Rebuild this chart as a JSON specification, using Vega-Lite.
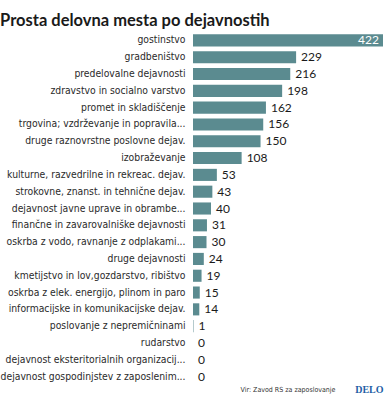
{
  "$schema": "https://vega.github.io/schema/vega-lite/v6.json",
  "width": 190,
  "height": 353,
  "autosize": {"type": "none"},
  "padding": {"left": 193, "top": 32, "right": 3, "bottom": 15},
  "background": "white",
  "title": {
    "text": "Prosta delovna mesta po dejavnostih",
    "anchor": "start",
    "frame": "bounds",
    "font": "Lato",
    "fontSize": 16.5,
    "fontWeight": "bold",
    "color": "#1a1a1a",
    "offset": 3
  },
  "data": {
    "values": [
      {"dejavnost": "gostinstvo", "value": 422},
      {"dejavnost": "gradbeništvo", "value": 229},
      {"dejavnost": "predelovalne dejavnosti", "value": 216},
      {"dejavnost": "zdravstvo in socialno varstvo", "value": 198},
      {"dejavnost": "promet in skladiščenje", "value": 162},
      {"dejavnost": "trgovina; vzdrževanje in popravila...", "value": 156},
      {"dejavnost": "druge raznovrstne poslovne dejav.", "value": 150},
      {"dejavnost": "izobraževanje", "value": 108},
      {"dejavnost": "kulturne, razvedrilne in rekreac. dejav.", "value": 53},
      {"dejavnost": "strokovne, znanst. in tehnične dejav.", "value": 43},
      {"dejavnost": "dejavnost javne uprave in obrambe...", "value": 40},
      {"dejavnost": "finančne in zavarovalniške dejavnosti", "value": 31},
      {"dejavnost": "oskrba z vodo, ravnanje z odplakami...", "value": 30},
      {"dejavnost": "druge dejavnosti", "value": 24},
      {"dejavnost": "kmetijstvo in lov,gozdarstvo, ribištvo", "value": 19},
      {"dejavnost": "oskrba z elek. energijo, plinom in paro", "value": 15},
      {"dejavnost": "informacijske in komunikacijske dejav.", "value": 14},
      {"dejavnost": "poslovanje z nepremičninami", "value": 1},
      {"dejavnost": "rudarstvo", "value": 0},
      {"dejavnost": "dejavnost eksteritorialnih organizacij...", "value": 0},
      {"dejavnost": "dejavnost gospodinjstev z zaposlenim...", "value": 0}
    ]
  },
  "encoding": {
    "y": {
      "field": "dejavnost",
      "type": "nominal",
      "sort": null,
      "scale": {"paddingInner": 0.28, "paddingOuter": 0.14},
      "axis": {
        "title": "DELO",
        "titleAngle": 0,
        "titleX": 190,
        "titleY": 357,
        "titleAlign": "right",
        "titleBaseline": "middle",
        "titleFont": "Liberation Serif",
        "titleFontSize": 10,
        "titleFontWeight": "bold",
        "titleColor": "#1f5fa6",
        "domain": false,
        "ticks": false,
        "labelPadding": 8,
        "labelLimit": 200,
        "labelFont": "DejaVu Sans Condensed",
        "labelFontSize": 10.3,
        "labelColor": "#2a2a2a"
      }
    },
    "x": {
      "field": "value",
      "type": "quantitative",
      "scale": {"domain": [0, 422], "nice": false},
      "axis": {
        "title": "Vir: Zavod RS za zaposlovanje",
        "titleAnchor": "end",
        "titleFont": "DejaVu Sans Condensed",
        "titleFontSize": 7,
        "titleFontWeight": "normal",
        "titleColor": "#333333",
        "titlePadding": 0,
        "titleX": 142,
        "titleAlign": "right",
        "labels": false,
        "ticks": false,
        "domain": false,
        "grid": false
      }
    }
  },
  "layer": [
    {"mark": {"type": "bar", "color": "#5b8b90"}},
    {
      "transform": [{"filter": "datum.value < 400"}],
      "mark": {"type": "text", "align": "left", "dx": 5, "font": "Lato", "fontSize": 12, "color": "#1a1a1a"},
      "encoding": {"text": {"field": "value", "type": "quantitative"}}
    },
    {
      "transform": [{"filter": "datum.value >= 400"}],
      "mark": {"type": "text", "align": "right", "dx": -4, "font": "Lato", "fontSize": 12, "color": "white"},
      "encoding": {"text": {"field": "value", "type": "quantitative"}}
    }
  ],
  "config": {"view": {"stroke": null}}
}
